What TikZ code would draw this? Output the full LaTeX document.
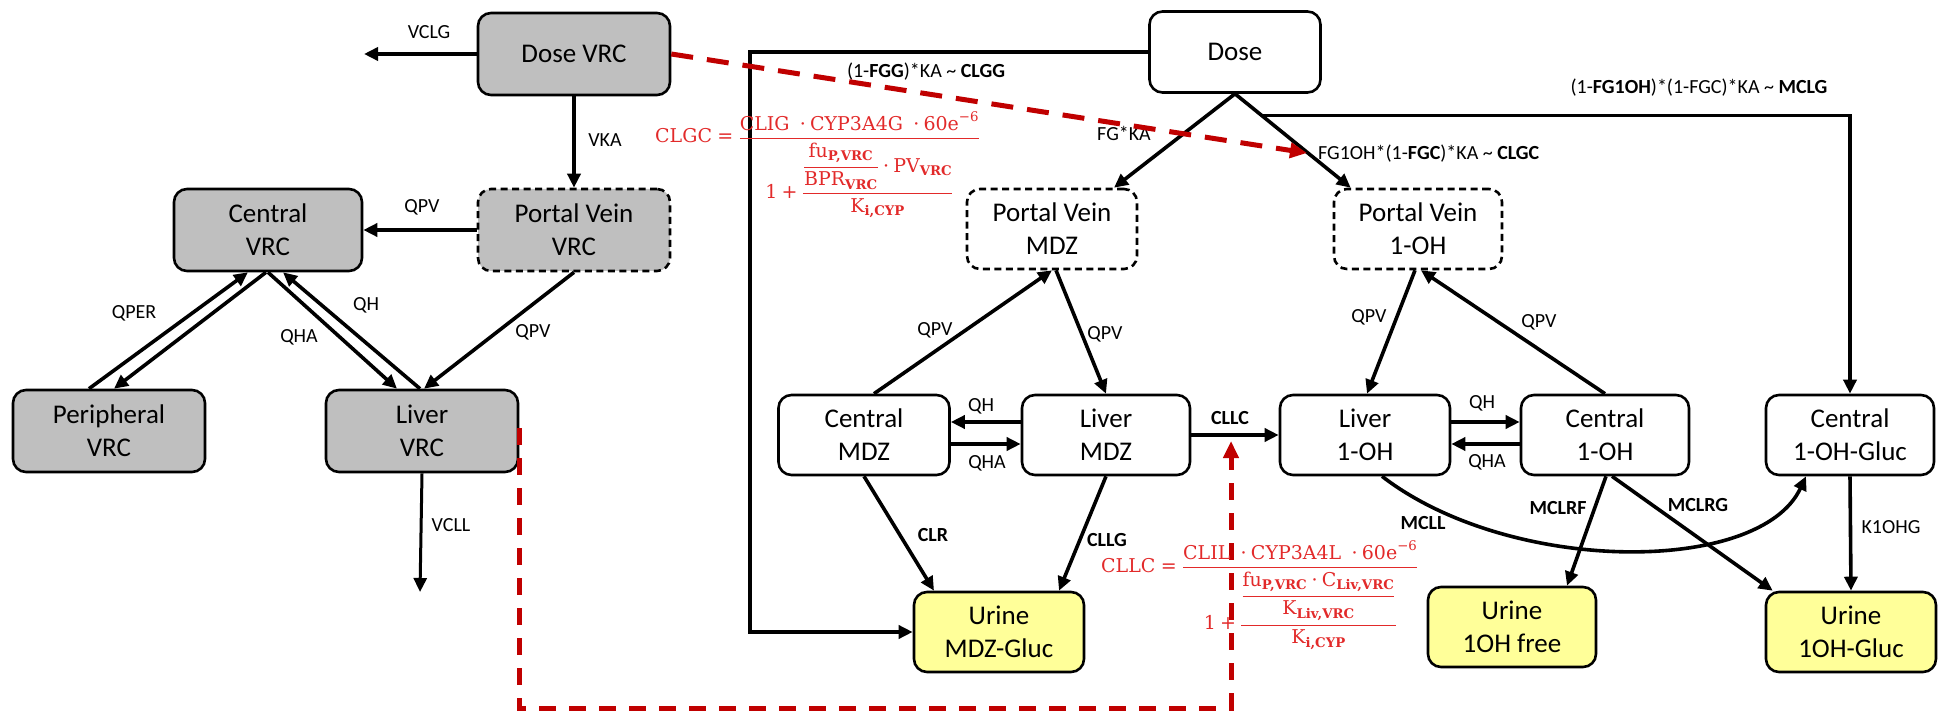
\RequirePackage{fix-cm}
\documentclass[tikz,border=0pt]{standalone}
\usepackage{amsmath}
\usepackage[no-math]{fontspec}
\setmainfont{Carlito}
\newfontfamily\formfont{DejaVu Serif}
\usetikzlibrary{arrows.meta,calc}
\definecolor{boxgrey}{RGB}{191,191,191}
\definecolor{urineyellow}{RGB}{255,255,153}
\definecolor{linkred}{RGB}{192,0,0}
\definecolor{formred}{RGB}{226,42,42}
% display fraction with a heavier rule
\newcommand{\ff}[2]{\genfrac{}{}{1.3pt}{0}{#1}{#2}}
% upright word, operators and bold subscript inside the formulas
\newcommand{\tx}[1]{\text{#1}}
\newcommand{\bsub}[1]{_{\text{\bfseries #1}}}
\newcommand{\md}{\mathbin{\text{·}}}
\newcommand{\pl}{\mathbin{\text{+}}}
\newcommand{\eq}{\;\text{=}\;}
\begin{document}
\begin{tikzpicture}[x=1pt,y=-1pt,
  box/.style={draw, line width=2.6pt, rounded corners=13pt, align=center, inner sep=0pt,
    minimum width=170pt, minimum height=80pt, fill=white, font=\fontsize{27}{33}\selectfont},
  vrc/.style={box, fill=boxgrey, minimum width=192pt, minimum height=82pt},
  portal/.style={dash pattern=on 7pt off 4.5pt},
  urine/.style={box, fill=urineyellow},
  flow/.style={line width=3.6pt, -{Triangle[length=14pt,width=13pt]}},
  lbl/.style={font=\fontsize{20}{24}\selectfont, inner sep=0pt},
  blbl/.style={font=\fontsize{20}{24}\selectfont\bfseries, inner sep=0pt},
  redlink/.style={draw=linkred, line width=5pt, dash pattern=on 17pt off 13pt,
    -{Triangle[length=17pt,width=15pt,fill=linkred]}},
  formula/.style={text=formred, inner sep=0pt, anchor=base west, font=\formfont\fontsize{19}{23}\selectfont}
]
\useasboundingbox (0,0) rectangle (1944,711);

% ---------- voriconazole model ----------
\node[vrc] (dvrc) at (574,54) {Dose VRC};
\node[vrc, portal] (pvvrc) at (574,230) {Portal Vein\\VRC};
\node[vrc, minimum width=188pt] (cvrc) at (268,230) {Central\\VRC};
\node[vrc] (pervrc) at (109,431) {Peripheral\\VRC};
\node[vrc] (lvrc) at (422,431) {Liver\\VRC};

\coordinate (vclgend) at (364,54);
\coordinate (vcllend) at (420,592);

\draw[flow] (dvrc.west) -- (vclgend);
\draw[flow] (dvrc.south) -- (pvvrc.north);
\draw[flow] (pvvrc.west) -- (cvrc.east);
\draw[flow] ($(pervrc.north)+(-20,0)$) -- ($(cvrc.south)+(-20,0)$);
\draw[flow] ($(cvrc.south)+(-2,0)$) -- ($(pervrc.north)+(5,0)$);
\draw[flow] (cvrc.south) -- ($(lvrc.north)+(-25,0)$);
\draw[flow] ($(lvrc.north)+(-2,0)$) -- ($(cvrc.south)+(15,0)$);
\draw[flow] (pvvrc.south) -- ($(lvrc.north)+(2,0)$);
\draw[flow, line width=3pt] (lvrc.south) -- (vcllend);

\node[lbl] at (429,32) {VCLG};
\node[lbl] at (605,140) {VKA};
\node[lbl] at (422,207) {QPV};
\node[lbl] at (134,313) {QPER};
\node[lbl] at (366,305) {QH};
\node[lbl] at (299,337) {QHA};
\node[lbl] at (533,332) {QPV};
\node[lbl] at (451,525) {VCLL};

% ---------- midazolam model ----------
\node[box, minimum width=171pt, minimum height=81pt] (dose) at (1235,52) {Dose};
\node[box, portal] (pvm) at (1052,229) {Portal Vein\\MDZ};
\node[box, portal, minimum width=168pt] (pvo) at (1418,229) {Portal Vein\\1-OH};
\node[box, minimum width=171pt] (cm) at (864,435) {Central\\MDZ};
\node[box, minimum width=168pt] (lm) at (1106,435) {Liver\\MDZ};
\node[box] (lo) at (1365,435) {Liver\\1-OH};
\node[box, minimum width=168pt] (co) at (1605,435) {Central\\1-OH};
\node[box, minimum width=168pt] (cg) at (1850,435) {Central\\1-OH-Gluc};
\node[urine] (um) at (999,632) {Urine\\MDZ-Gluc};
\node[urine, minimum width=168pt] (uf) at (1512,627) {Urine\\1OH free};
\node[urine] (ug) at (1851,632) {Urine\\1OH-Gluc};

\coordinate (bigcorner) at (750,52);
\draw[flow] (dose.west) -- (bigcorner) |- (um.west);
\draw[flow] (dose.south) -- ($(pvm.north)+(62,0)$);
\draw[flow] (dose.south) -- ($(pvo.north west)+(18,0)$);
\coordinate (mj) at ($(dose.south)!0.23!($(pvo.north west)+(18,0)$)$);
\draw[flow] (mj) -| (cg.north);

\draw[flow] ($(cm.north)+(10,0)$) -- (pvm.south);
\draw[flow] ($(pvm.south)+(4,0)$) -- (lm.north);
\draw[flow] ($(lm.west)+(0,-13)$) -- ($(cm.east)+(0,-13)$);
\draw[flow] ($(cm.east)+(0,9)$) -- ($(lm.west)+(0,9)$);
\draw[flow] (lm.east) -- (lo.west);
\draw[flow] ($(pvo.south)+(-3,0)$) -- ($(lo.north)+(2,0)$);
\draw[flow] (co.north) -- ($(pvo.south)+(3,0)$);
\draw[flow] ($(lo.east)+(0,-13)$) -- ($(co.west)+(0,-13)$);
\draw[flow] ($(co.west)+(0,9)$) -- ($(lo.east)+(0,9)$);
\draw[flow] (cm.south) -- ($(um.north)+(-65,0)$);
\draw[flow] (lm.south) -- ($(um.north)+(60,0)$);
\draw[flow] ($(co.south)+(1,0)$) -- ($(uf.north)+(55,0)$);
\draw[flow] ($(co.south)+(7,0)$) -- ($(ug.north west)+(8,0)$);
\draw[flow] (cg.south) -- (ug.north);
\draw[flow] ($(lo.south)+(17,0)$) .. controls (1510,575) and (1760,575) .. ($(cg.south)+(-44,0)$);

\node[lbl] at (926,72) {(1-\textbf{FGG})*KA \char`\~\ \textbf{CLGG}};
\node[lbl] at (1124,133) {FG*KA};
\node[lbl, anchor=west] at (1318,154) {FG1OH*(1-\textbf{FGC})*KA \char`\~\ \textbf{CLGC}};
\node[lbl] at (1699,88) {(1-\textbf{FG1OH})*(1-FGC)*KA \char`\~\ \textbf{MCLG}};
\node[lbl] at (935,330) {QPV};
\node[lbl] at (1105,334) {QPV};
\node[lbl] at (981,406) {QH};
\node[lbl] at (987,463) {QHA};
\node[blbl] at (1230,418) {CLLC};
\node[lbl] at (1369,317) {QPV};
\node[lbl] at (1539,322) {QPV};
\node[lbl] at (1482,403) {QH};
\node[lbl] at (1487,462) {QHA};
\node[blbl] at (933,535) {CLR};
\node[blbl] at (1107,540) {CLLG};
\node[blbl] at (1423,523) {MCLL};
\node[blbl] at (1558,508) {MCLRF};
\node[blbl] at (1698,505) {MCLRG};
\node[lbl] at (1891,527) {K1OHG};

% ---------- inhibition links ----------
\coordinate (gutinh) at (1307,153);
\coordinate (livbend) at (1231,708);
\coordinate (livinh) at (1231,441);
\draw[redlink, dash pattern=on 22pt off 14pt] (dvrc.east) -- (gutinh);
\draw[redlink] ($(lvrc.east)+(0,-3)$) |- (livbend) -- (livinh);

\node[formula] (clgc) at (655,143) {$\tx{CLGC}\eq\ff{\tx{CLIG}\ \md\tx{CYP3A4G}\ \md\tx{60e}^{\tx{−6}}}{\tx{1}\pl\ff{\ff{\tx{fu}\bsub{P,VRC}}{\tx{BPR}\bsub{VRC}}\md\tx{PV}\bsub{VRC}}{\tx{K}\bsub{i,CYP}}}$};
\node[formula] (cllc) at (1101,572) {$\tx{CLLC}\eq\ff{\tx{CLIL}\ \md\tx{CYP3A4L}\ \md\tx{60e}^{\tx{−6}}}{\tx{1}\pl\ff{\ff{\tx{fu}\bsub{P,VRC}\md\tx{C}\bsub{Liv,VRC}}{\tx{K}\bsub{Liv,VRC}}}{\tx{K}\bsub{i,CYP}}}$};
\end{tikzpicture}
\end{document}
